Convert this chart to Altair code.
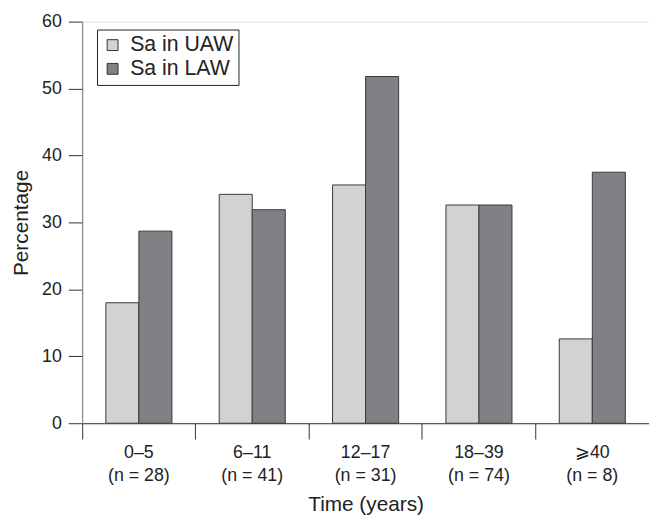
import altair as alt
import pandas as pd

categories = ["0\u20135", "6\u201311", "12\u201317", "18\u201339", "\u2a7e40"]
n_values = [28, 41, 31, 74, 8]
uaw = [18.0, 34.2, 35.6, 32.6, 12.6]
law = [28.7, 31.9, 51.8, 32.6, 37.5]
series = ["Sa in UAW", "Sa in LAW"]
colors = ["#d1d2d4", "#808184"]

rows = []
for c, n, u, l in zip(categories, n_values, uaw, law):
    lab = f"{c}|(n = {n})"
    rows.append({"group": lab, "series": series[0], "value": u})
    rows.append({"group": lab, "series": series[1], "value": l})
df = pd.DataFrame(rows)
order = [f"{c}|(n = {n})" for c, n in zip(categories, n_values)]

FONT = "Liberation Sans"
W = 573
bars = alt.Chart(df).mark_bar(stroke="#3a3a3a", strokeWidth=1).encode(
    x=alt.X("group:N", sort=order,
            scale=alt.Scale(paddingInner=0, paddingOuter=0),
            axis=alt.Axis(title="Time (years)", bandPosition=0,
                          labelExpr="split(datum.label, '|')", labelAngle=0,
                          tickSize=16, tickColor="#333", domainColor="#333",
                          labelFontSize=18, labelLineHeight=23, labelPadding=5,
                          labelColor="#222", titleFontSize=21, titleFontWeight="normal",
                          titleColor="#222", titlePadding=9, labelBaseline="top")),
    xOffset=alt.XOffset("series:N", sort=series,
                        scale=alt.Scale(paddingInner=0, paddingOuter=0.716)),
    y=alt.Y("value:Q", scale=alt.Scale(domain=[0, 60]),
            axis=alt.Axis(title="Percentage", values=[0, 10, 20, 30, 40, 50, 60],
                          grid=False, tickSize=14, tickColor="#333", domainColor="#777",
                          labelFontSize=18, labelColor="#222", labelPadding=7,
                          titleFontSize=21, titleFontWeight="normal", titleColor="#222",
                          titlePadding=10)),
    color=alt.Color("series:N", sort=series,
                    scale=alt.Scale(domain=series, range=colors),
                    legend=alt.Legend(title=None, orient="none", legendX=15, legendY=8,
                                      symbolType="square", symbolSize=121,
                                      symbolStrokeColor="#333", symbolStrokeWidth=1,
                                      symbolOffset=0,
                                      labelFontSize=21.5, labelColor="#222",
                                      strokeColor="#222", fillColor="white",
                                      padding=5, rowPadding=1, labelOffset=7)),
)

chart = bars.properties(
    width=W, height=406,
    autosize=alt.AutoSizeParams(type="none"),
    padding={"left": 75, "top": 11, "right": 0, "bottom": 90},
).configure_view(stroke=None).configure(font=FONT)

chart.save("out.html", embed_options={"renderer": "svg", "actions": False})
